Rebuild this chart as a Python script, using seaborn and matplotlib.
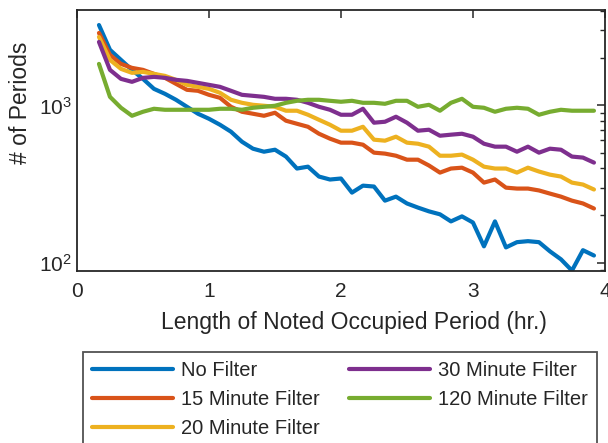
import numpy as np
import pandas as pd
import matplotlib
matplotlib.use('Agg')
import matplotlib.pyplot as plt
import seaborn as sns

# Dados (comprimento em minutos, de 10 a 235 de 5 em 5)
minutes = list(range(10, 240, 5))

no_filter = [3250, 2260, 1950, 1685, 1477, 1276, 1186, 1087, 981, 886,
             823, 754, 681, 588, 531, 508, 523, 473, 397, 408,
             353, 338, 343, 279, 309, 305, 248, 263, 238, 224,
             212, 203, 183, 197, 180, 127, 183, 125, 135, 137,
             135, 118, 105, 89, 120, 111]
filter_15 = [2893, 2097, 1839, 1735, 1685, 1589, 1499, 1373, 1258, 1240,
             1169, 1119, 981, 912, 886, 860, 899, 800, 765, 732,
             661, 615, 580, 580, 563, 501, 494, 479, 452, 452,
             415, 374, 397, 402, 374, 323, 338, 300, 296, 296,
             288, 275, 263, 248, 238, 221]
filter_20 = [2729, 1950, 1710, 1613, 1636, 1589, 1543, 1456, 1353, 1314,
             1276, 1204, 1087, 1040, 1010, 996, 981, 926, 926, 873,
             811, 754, 691, 691, 732, 606, 597, 633, 580, 571,
             547, 479, 479, 487, 452, 408, 397, 397, 374, 402,
             380, 363, 353, 323, 314, 292]
filter_30 = [2537, 1685, 1477, 1414, 1499, 1521, 1499, 1456, 1434, 1393,
             1353, 1314, 1240, 1169, 1152, 1135, 1103, 1103, 1087, 1040,
             981, 939, 873, 873, 953, 777, 788, 848, 777, 691,
             701, 642, 652, 661, 633, 571, 547, 547, 508, 547,
             501, 531, 523, 473, 466, 433]
filter_120 = [1839, 1135, 967, 860, 912, 953, 939, 939, 939, 939,
              939, 953, 953, 939, 967, 981, 996, 1040, 1071, 1087,
              1087, 1071, 1056, 1071, 1040, 1040, 1025, 1071, 1071, 981,
              1010, 926, 1040, 1103, 981, 967, 912, 953, 967, 953,
              873, 912, 939, 926, 926, 926]

labels = ['No Filter', '15 Minute Filter', '20 Minute Filter',
          '30 Minute Filter', '120 Minute Filter']
series = [no_filter, filter_15, filter_20, filter_30, filter_120]
colors = ['#0072BD', '#D95319', '#EDB120', '#7E2F8E', '#77AC30']

# Tabela longa para o seaborn
hours = np.array(minutes) / 60.0
df = pd.concat([
    pd.DataFrame({'hours': hours, 'periods': vals, 'filter': lab})
    for lab, vals in zip(labels, series)
], ignore_index=True)

sns.set_style('white')
plt.rcParams['font.family'] = ['Liberation Sans', 'DejaVu Sans']
plt.rcParams['mathtext.fontset'] = 'custom'
plt.rcParams['mathtext.rm'] = 'Liberation Sans'

dark = '#262626'

fig = plt.figure(figsize=(6.08, 4.43), dpi=100)
ax = fig.add_axes([0.1266, 0.3883, 0.8684, 0.5891])

sns.lineplot(data=df, x='hours', y='periods', hue='filter',
             hue_order=labels, palette=colors, linewidth=3, ax=ax)

ax.set_yscale('log')
ax.set_xlim(0, 4)
ax.set_ylim(88.5, 4050)
ax.set_xticks([0, 1, 2, 3, 4])
ax.set_xticklabels(['0', '1', '2', '3', '4'])

ax.tick_params(axis='both', which='both', direction='in', top=True, right=True,
               color=dark, labelcolor=dark, labelsize=15)
ax.tick_params(axis='both', which='major', length=6, width=1.1)
ax.tick_params(axis='y', which='minor', length=3.5, width=1.0)
ax.tick_params(axis='x', which='major', pad=8)
ax.tick_params(axis='y', which='major', pad=4)
for sp in ax.spines.values():
    sp.set_color(dark)
    sp.set_linewidth(1.3)

ax.set_xlabel('Length of Noted Occupied Period (hr.)', fontsize=16.5, color=dark)
ax.set_ylabel('# of Periods', fontsize=16.5, color=dark)
ax.xaxis.set_label_coords(0.525, -0.155)
ax.yaxis.set_label_coords(-0.085, 0.645)

# Legenda abaixo do gráfico, em duas colunas
handles, labs = ax.get_legend_handles_labels()
ax.get_legend().remove()
leg = fig.legend(handles, labs, loc='upper left',
                 bbox_to_anchor=(83 / 608, 0.0, 514 / 608, 1 - 352 / 443),
                 mode='expand', ncol=2, fontsize=14.5, frameon=True, fancybox=False,
                 edgecolor=dark, handlelength=4.0, handletextpad=0.4,
                 columnspacing=1.2, labelspacing=0.5, borderpad=0.45,
                 borderaxespad=0)
leg.get_frame().set_linewidth(1.3)
for line in leg.get_lines():
    line.set_linewidth(3)

plt.savefig('out.png', dpi=100)
plt.close()
